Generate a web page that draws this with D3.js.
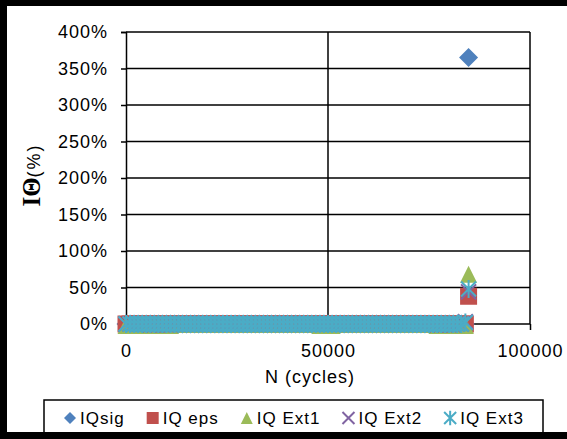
<!DOCTYPE html>
<html>
<head>
<meta charset="utf-8">
<script src="https://cdn.jsdelivr.net/npm/d3@7"></script>
<style>
  body { margin: 0; background: #fff; }
  svg { display: block; }
  text { font-family: Arial, "Liberation Sans", sans-serif; fill: #000; }
</style>
</head>
<body>
<div id="chart"></div>
<script>
// N (cycles) of every measurement
const cycles = [
    0, 1000, 2000, 3000, 4000, 5000, 6000, 7000, 8000, 9000,
    10000, 11000, 12000, 13000, 14000, 15000, 16000, 17000, 18000, 19000,
    20000, 21000, 22000, 23000, 24000, 25000, 26000, 27000, 28000, 29000,
    30000, 31000, 32000, 33000, 34000, 35000, 36000, 37000, 38000, 39000,
    40000, 41000, 42000, 43000, 44000, 45000, 46000, 47000, 48000, 49000,
    50000, 51000, 52000, 53000, 54000, 55000, 56000, 57000, 58000, 59000,
    60000, 61000, 62000, 63000, 64000, 65000, 66000, 67000, 68000, 69000,
    70000, 71000, 72000, 73000, 74000, 75000, 76000, 77000, 78000, 79000,
    80000, 81000, 82000, 83000, 84000, 84800
];

// I-Theta (%) per series
const iqSig = [
    0, 0, 0, 0, 0, 0, 0, 0, 0, 0,
    0, 0, 0, 0, 0, 0, 0, 0, 0, 0,
    0, 0, 0, 0, 0, 0, 0, 0, 0, 0,
    0, 0, 0, 0, 0, 0, 0, 0, 0, 0,
    0, 0, 0, 0, 0, 0, 0, 0, 0, 0,
    0, 0, 0, 0, 0, 0, 0, 0, 0, 0,
    0, 0, 0, 0, 0, 0, 0, 0, 0, 0,
    0, 0, 0, 0, 0, 0, 0, 0, 0, 0,
    0, 0, 0, 0, 0, 365
];
const iqEps = [
    0, 0, 0, 0, 0, 0, 0, 0, 0, 0,
    0, 0, 0, 0, 0, 0, 0, 0, 0, 0,
    0, 0, 0, 0, 0, 0, 0, 0, 0, 0,
    0, 0, 0, 0, 0, 0, 0, 0, 0, 0,
    0, 0, 0, 0, 0, 0, 0, 0, 0, 0,
    0, 0, 0, 0, 0, 0, 0, 0, 0, 0,
    0, 0, 0, 0, 0, 0, 0, 0, 0, 0,
    0, 0, 0, 0, 0, 0, 0, 0, 0, 0,
    0, 0, 0, 0, 0, 38
];
const iqExt1 = [
    -2, -2, -2, -2, -2, -2, -2, -2, -2, -2,
    -2, -2, 0, 0, 0, 0, 0, 0, 0, 0,
    0, 0, 0, 0, 0, 0, 0, 0, 0, 0,
    0, 0, 0, 0, 0, 0, 0, 0, 0, 0,
    0, 0, 0, 0, 0, 0, 0, 0, -2, -2,
    -2, -2, 0, 0, 0, 0, 0, 0, 0, 0,
    0, 0, 0, 0, 0, 0, 0, 0, 0, 0,
    0, 0, 0, 0, 0, 0, 0, -2, -2, -2,
    -2, -2, -2, -2, -2, 68
];
const iqExt2 = [
    0, 0, 0, 0, 0, 0, -1, -1, -1, -1,
    -1, -1, 0, 0, 0, 0, 0, 0, 0, 0,
    0, 0, 0, 0, 0, 0, 0, 0, 0, 0,
    0, 0, 0, 0, 0, 0, 0, 0, 0, 0,
    0, 0, 0, 0, 0, 0, 0, 0, 0, 0,
    0, 0, 0, 0, 0, 0, 0, 0, 0, 0,
    0, 0, 0, 0, 0, 0, 0, 0, 0, 0,
    0, 0, 0, 0, 0, 0, 0, -1, -1, -1,
    -1, -1, 0, 0, 3, 44
];
const iqExt3 = [
    0, 0, 0, 0, 0, 0, 0, 0, 0, 0,
    0, 0, 0, 0, 0, 0, 0, 0, 0, 0,
    0, 0, 0, 0, 0, 0, 0, 0, 0, 0,
    0, 0, 0, 0, 0, 0, 0, 0, 0, 0,
    0, 0, 0, 0, 0, 0, 0, 0, 0, 0,
    0, 0, 0, 0, 0, 0, 0, 0, 0, 0,
    0, 0, 0, 0, 0, 0, 0, 0, 0, 0,
    0, 0, 0, 0, 0, 0, 0, 0, 0, 0,
    0, 0, 0, 0, 2, 48
];

const seriesNames = ['IQsig', 'IQ eps', 'IQ Ext1', 'IQ Ext2', 'IQ Ext3'];
const seriesValues = [iqSig, iqEps, iqExt1, iqExt2, iqExt3];
const seriesColors = ['#4F81BD', '#C0504D', '#9BBB59', '#8064A2', '#4BACC6'];
const seriesShapes = ['diamond', 'square', 'triangle', 'cross', 'star'];

const xTicks = [0, 50000, 100000];
const yTicks = [0, 50, 100, 150, 200, 250, 300, 350, 400];

const width = 567, height = 439;
const plot = {left: 126, right: 530, top: 32, bottom: 324};

const svg = d3.select('#chart').append('svg')
    .attr('width', width)
    .attr('height', height);

svg.append('rect').attr('width', width).attr('height', height).attr('fill', '#fff');

const x = d3.scaleLinear().domain([0, 100000]).range([plot.left, plot.right]);
const y = d3.scaleLinear().domain([0, 400]).range([plot.bottom, plot.top]);

// gridlines
svg.append('g')
    .selectAll('line.hgrid')
    .data(yTicks.filter(d => d > 0))
    .join('line')
    .attr('x1', plot.left).attr('x2', plot.right)
    .attr('y1', d => y(d)).attr('y2', d => y(d))
    .attr('stroke', '#000').attr('stroke-width', 1.5);
svg.append('g')
    .selectAll('line.vgrid')
    .data(xTicks.filter(d => d > 0))
    .join('line')
    .attr('x1', d => x(d)).attr('x2', d => x(d))
    .attr('y1', plot.top).attr('y2', plot.bottom)
    .attr('stroke', '#000').attr('stroke-width', 1.5);

// y axis
const yAxis = svg.append('g')
    .attr('transform', `translate(${plot.left},0)`)
    .call(d3.axisLeft(y).tickValues(yTicks).tickSize(5).tickPadding(13).tickFormat(d => d + '%'));
yAxis.select('.domain').attr('stroke', '#000').attr('stroke-width', 1.5);
yAxis.selectAll('.tick line').attr('stroke', '#000').attr('stroke-width', 1.5);
yAxis.selectAll('.tick text')
    .attr('font-size', 18).attr('letter-spacing', 1)
    .attr('font-family', 'Arial, "Liberation Sans", sans-serif');

// x axis
const xAxis = svg.append('g')
    .attr('transform', `translate(0,${plot.bottom})`)
    .call(d3.axisBottom(x).tickValues(xTicks).tickSize(6).tickPadding(14).tickFormat(d3.format('d')));
xAxis.select('.domain').attr('stroke', '#000').attr('stroke-width', 1.5).attr('d', `M${plot.left},0H${plot.right}`);
xAxis.selectAll('.tick line').attr('stroke', '#000').attr('stroke-width', 1.5);
xAxis.selectAll('.tick text')
    .attr('font-size', 18).attr('letter-spacing', 1)
    .attr('font-family', 'Arial, "Liberation Sans", sans-serif');

// axis titles
svg.append('text')
    .attr('x', 310).attr('y', 383)
    .attr('text-anchor', 'middle')
    .attr('font-size', 18).attr('letter-spacing', 1)
    .text('N (cycles)');

const yTitle = svg.append('text')
    .attr('transform', 'translate(40,175) rotate(-90)')
    .attr('text-anchor', 'middle');
yTitle.append('tspan')
    .attr('font-family', '"Liberation Serif", "Times New Roman", serif')
    .attr('font-weight', 'bold').attr('font-size', 25)
    .text('IΘ');
yTitle.append('tspan')
    .attr('font-size', 18).attr('letter-spacing', 2)
    .text('(%)');

// marker shapes
function markerPath(shape, r) {
    switch (shape) {
        case 'diamond': return `M0,${-r}L${r},0L0,${r}L${-r},0Z`;
        case 'square': return `M${-r},${-r}H${r}V${r}H${-r}Z`;
        case 'triangle': return `M0,${-r}L${r},${r}H${-r}Z`;
        case 'cross': return `M${-r},${-r}L${r},${r}M${-r},${r}L${r},${-r}`;
        case 'star': return `M${-r},${-r}L${r},${r}M${-r},${r}L${r},${-r}M0,${-r * 1.2}V${r * 1.2}`;
    }
}
function isLine(shape) { return shape === 'cross' || shape === 'star'; }

function drawMarker(sel, i, r) {
    let shape = seriesShapes[i];
    sel.attr('d', markerPath(shape, r))
        .attr('fill', isLine(shape) ? 'none' : seriesColors[i])
        .attr('stroke', isLine(shape) ? seriesColors[i] : 'none')
        .attr('stroke-width', isLine(shape) ? 2 : 0);
}

// series markers
const markerSizes = [9.5, 8.5, 8.5, 7.5, 7.5];
seriesValues.forEach((vals, i) => {
    let pts = cycles.map((c, j) => ({c: c, v: vals[j]}));
    svg.append('g')
        .selectAll('path')
        .data(pts)
        .join('path')
        .attr('transform', d => `translate(${x(d.c)},${y(d.v)})`)
        .call(drawMarker, i, markerSizes[i]);
});

// legend
const legend = svg.append('g');
legend.append('rect')
    .attr('x', 44).attr('y', 400).attr('width', 499).attr('height', 40)
    .attr('fill', '#fff').attr('stroke', '#000').attr('stroke-width', 1.5);
let lx = 70;
seriesNames.forEach((name, i) => {
    legend.append('path')
        .attr('transform', `translate(${lx},418)`)
        .call(drawMarker, i, 6);
    let t = legend.append('text')
        .attr('x', lx + 10).attr('y', 424)
        .attr('font-size', 17).attr('letter-spacing', 1)
        .text(name);
    lx += 10 + t.node().getComputedTextLength() + 28;
});

// outer frame
svg.append('rect').attr('x', 0).attr('y', 0).attr('width', width).attr('height', 6).attr('fill', '#000');
svg.append('rect').attr('x', 0).attr('y', 0).attr('width', 7).attr('height', height).attr('fill', '#000');
svg.append('rect').attr('x', 0).attr('y', 432).attr('width', width).attr('height', 7).attr('fill', '#000');
</script>
</body>
</html>
